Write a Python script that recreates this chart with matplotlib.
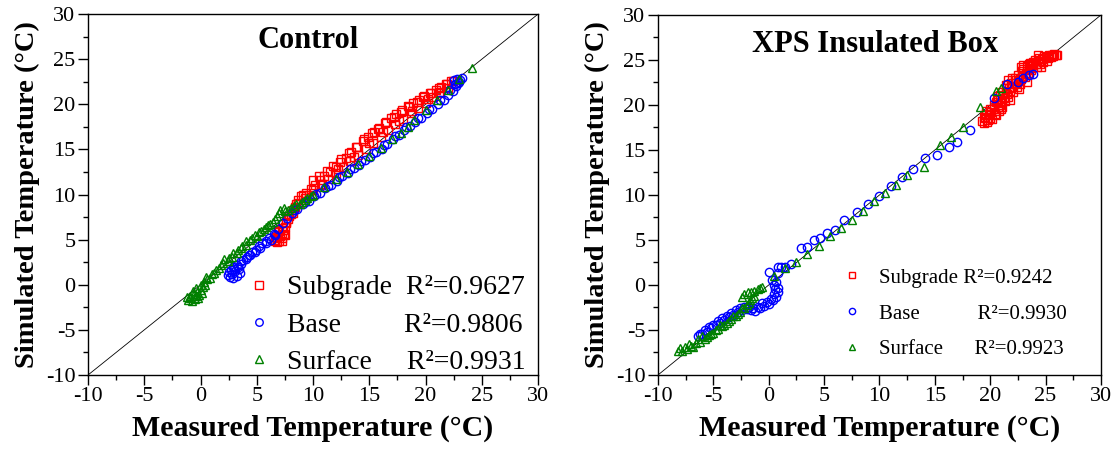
import matplotlib
matplotlib.use('Agg')
import numpy as np
import matplotlib.pyplot as plt
from matplotlib.ticker import MultipleLocator

plt.rcParams['font.family'] = ['Liberation Serif', 'DejaVu Serif']
plt.rcParams['axes.unicode_minus'] = False

# Control box: (measured, simulated)
ctrl_sub_x = [6.6, 6.8, 7.0, 7.2, 6.7, 6.9, 7.1, 7.4, 7.0, 7.3, 7.5, 7.6, 7.8, 8.0, 8.2, 8.5, 8.7,
              8.9, 9.1, 9.4, 9.8, 10.2, 10.6, 11.0, 11.5, 12.0, 12.4, 12.9, 13.4, 13.9, 14.4, 14.9,
              15.4, 15.9, 16.4, 16.9, 17.4, 17.9, 18.4, 18.9, 19.4, 19.9, 20.4, 20.9, 21.4, 21.9, 22.4,
              12.2, 13.6, 15.0, 16.2, 17.6, 18.8, 20.2, 21.2, 10.8, 9.6,
              9.3, 10.0, 10.7, 11.3, 12.0, 12.7, 13.3, 14.0, 14.7, 15.3, 16.0, 16.7, 17.3, 18.0,
              18.7, 19.3, 20.0, 20.7, 21.3, 22.0,
              10.0, 10.5, 11.2, 11.8, 12.5, 13.2, 13.8, 14.5, 15.2, 15.8, 16.5, 17.2, 17.8, 18.5,
              19.2, 19.8, 20.5, 21.2, 21.8, 22.3,
              6.6, 6.8, 7.2, 7.5, 6.9, 7.2, 7.6, 7.9, 8.2, 8.4, 8.7]
ctrl_sub_y = [4.8, 4.7, 4.9, 4.8, 5.3, 5.5, 5.4, 5.6, 6.0, 6.1, 6.4, 6.8, 7.3, 7.8, 8.3, 8.9, 9.4,
              9.8, 10.0, 10.2, 10.6, 11.1, 11.6, 12.0, 12.5, 13.1, 13.6, 14.1, 14.7, 15.3, 15.9, 16.4,
              16.9, 17.4, 17.9, 18.5, 18.9, 19.4, 19.8, 20.2, 20.5, 20.9, 21.2, 21.6, 21.9, 22.2, 22.6,
              12.8, 14.2, 15.7, 16.9, 18.2, 19.3, 20.6, 21.4, 11.2, 9.9,
              9.6, 10.5, 11.1, 11.7, 12.4, 13.1, 13.7, 14.4, 15.1, 15.7, 16.4, 17.1, 17.8, 18.4,
              19.0, 19.6, 20.2, 20.8, 21.3, 21.8,
              11.6, 12.1, 12.6, 13.2, 13.9, 14.6, 15.3, 16.1, 16.8, 17.3, 18.0, 18.6, 19.2, 19.7,
              20.3, 20.8, 21.3, 21.8, 22.3, 22.6,
              5.0, 5.2, 5.2, 5.5, 5.8, 6.3, 7.0, 7.6, 8.0, 8.6, 9.1]

ctrl_base_x = [2.4, 2.6, 2.9, 3.2, 3.5, 2.7, 3.0, 3.3, 3.6, 3.8, 4.1, 4.3, 4.6, 4.9, 5.2, 5.5, 5.8,
               6.1, 6.5, 6.9, 7.3, 7.7, 8.1, 8.6, 9.1, 9.6, 10.1, 10.6, 11.1, 11.6, 12.1, 12.6, 13.1,
               13.6, 14.1, 14.6, 15.1, 15.6, 16.1, 16.6, 17.1, 17.6, 18.1, 18.6, 19.1, 19.6, 20.1,
               20.6, 21.1, 21.6, 22.0, 22.4, 22.7, 22.9, 23.1, 22.8,
               2.5, 2.8, 3.1, 3.4, 2.9, 3.2, 3.6, 4.0, 4.4, 4.8, 5.3, 5.8, 6.3, 6.6,
               8.3, 9.3, 10.3, 11.3, 12.3, 13.3, 14.3, 15.3, 16.3, 17.3, 18.3, 19.3, 20.3, 21.3,
               22.2, 22.6, 23.0, 22.5, 23.2]
ctrl_base_y = [1.1, 0.9, 0.8, 1.0, 1.3, 1.6, 1.8, 2.0, 2.3, 2.7, 3.1, 3.3, 3.6, 3.9, 4.3, 4.6, 4.9,
               5.2, 5.6, 6.2, 6.8, 7.4, 7.9, 8.4, 8.9, 9.3, 9.8, 10.2, 10.7, 11.1, 11.5, 12.0, 12.4,
               12.9, 13.3, 13.8, 14.2, 14.7, 15.1, 15.6, 16.1, 16.6, 17.1, 17.6, 18.0, 18.5, 19.0,
               19.5, 20.0, 20.5, 21.0, 21.5, 22.0, 22.4, 22.7, 22.8,
               1.4, 1.2, 1.5, 1.7, 2.0, 2.2, 2.6, 2.9, 3.3, 3.6, 4.1, 4.6, 5.0, 5.5,
               8.3, 9.2, 10.1, 11.0, 11.9, 12.8, 13.7, 14.6, 15.5, 16.5, 17.5, 18.5, 19.5, 20.5,
               21.6, 22.3, 22.5, 22.7, 22.9]

ctrl_surf_x = [-1.1, -0.8, -0.5, -0.2, -0.9, -0.6, -0.3, 0.0, 0.2, 0.4, 0.6, 1.0, 1.4, 1.8, 2.1, 2.5,
               2.9, 3.3, 3.7, 4.0, 4.4, 4.8, 5.2, 5.6, 6.0, 6.4, 6.8, 7.1, 7.5, 8.0, 8.5, 9.0, 9.5,
               10.0, 11.0, 12.0, 13.0, 14.0, 15.0, 16.0, 17.0, 17.8, 18.4, 19.0, 20.0, 21.0, 22.0,
               23.0, 24.1,
               -1.2, -0.9, -0.4, -0.1, 0.1, -0.7, -0.4, 0.0, 0.3, 0.5, 0.8, 1.2, 1.6, 2.0, 2.4,
               2.8, 3.2, 3.6, 4.0, 4.6, 5.0, 5.4, 5.8, 6.2, 6.6, 7.0, 7.4, 7.8, 8.3, 8.8, 9.3, 9.8]
ctrl_surf_y = [-1.7, -1.8, -1.6, -1.5, -1.2, -1.0, -0.8, -0.6, -0.3, 0.0, 0.6, 1.2, 1.6, 2.2, 2.8, 3.0,
               3.5, 3.9, 4.3, 4.8, 5.0, 5.5, 5.8, 6.2, 6.6, 7.0, 7.6, 8.3, 8.2, 8.5, 8.9, 9.2, 9.6,
               10.0, 10.8, 11.7, 12.5, 13.4, 14.3, 15.2, 16.2, 16.8, 17.5, 18.3, 19.4, 20.5, 21.6,
               22.8, 24.0,
               -1.4, -1.5, -1.3, -1.1, -0.9, -0.7, -0.4, 0.0, 0.3, 0.9, 0.7, 1.3, 1.9, 2.4, 2.6,
               3.1, 3.5, 4.1, 4.4, 5.2, 5.4, 6.0, 6.4, 6.7, 7.3, 7.9, 8.5, 8.3, 8.7, 9.0, 9.4, 9.8]

# XPS insulated box
xps_sub_x = [19.3, 19.5, 19.8, 20.0, 19.6, 20.1, 20.4, 20.3, 20.7, 20.5, 21.0, 21.2, 20.9, 21.5,
             21.8, 21.4, 22.0, 22.3, 22.6, 22.2, 22.9, 23.2, 23.0, 23.5, 23.8, 24.1, 24.4, 24.7,
             25.0, 25.3, 25.6, 25.9, 24.0, 23.6, 21.6, 22.8,
             19.4, 19.7, 19.4, 19.9, 19.6, 20.0, 20.2, 20.5, 20.8, 20.3, 20.6, 20.9, 20.7,
             21.1, 21.3, 21.6, 21.1, 21.7, 21.9, 21.4, 22.1, 22.4, 22.7, 22.2, 22.5, 22.9, 22.8,
             23.1, 23.4, 23.7, 23.3, 23.9, 23.5, 24.2, 24.5, 24.8, 24.4, 24.9, 25.2, 25.5, 25.8,
             26.0, 25.7,
             21.0, 21.8, 22.0, 22.6, 23.3, 23.0, 24.3, 24.6, 23.7, 25.1]
xps_sub_y = [18.2, 18.5, 18.3, 18.6, 19.0, 19.2, 19.0, 19.6, 19.8, 20.3, 20.3, 20.8, 21.1, 21.2,
             21.6, 21.9, 22.0, 22.4, 22.8, 23.0, 23.2, 23.6, 24.0, 24.0, 24.4, 24.6, 24.9, 25.1,
             25.3, 25.5, 25.6, 25.5, 25.0, 24.7, 22.8, 24.2,
             18.0, 18.1, 18.7, 18.9, 19.3, 19.6, 18.4, 18.9, 19.3, 20.0, 20.6, 20.0, 21.0,
             19.8, 20.4, 20.9, 21.4, 21.9, 22.4, 22.2, 21.4, 22.0, 22.3, 22.8, 23.3, 23.8, 22.9,
             23.1, 23.5, 23.9, 24.3, 24.8, 24.5, 24.2, 24.5, 24.8, 25.2, 25.4, 25.2, 25.3, 25.7,
             25.5, 25.4,
             19.6, 20.6, 23.0, 21.8, 22.6, 24.4, 25.5, 24.2, 24.1, 24.9]

xps_base_x = [-6.2, -5.8, -5.4, -5.0, -4.6, -4.2, -3.8, -3.4, -3.0, -2.6, -2.2, -1.8, -1.4, -1.0,
              -0.6, -0.2, 0.2, 0.5, 0.6, 0.5, 0.3, 0.8, 1.1, 1.5, 2.0, 2.9, 3.5, 4.1, 4.6, 5.3, 6.0,
              6.8, 8.0, 9.0, 10.0, 11.0, 12.0, 13.0, 14.1, 15.2, 16.3, 17.0, 18.2, 20.3, 21.5, 22.5,
              23.0, 23.5, 23.9,
              -6.4, -6.0, -5.6, -5.2, -4.8, -4.4, -4.0, -3.6, -3.2, -2.8, -2.4, -2.0, -1.6, -1.2,
              -0.8, -0.4, 0.0, 0.4, 0.7, 0.8, 0.8, 0.7, 0.0, 0.8]
xps_base_y = [-5.4, -5.0, -4.7, -4.4, -4.0, -3.7, -3.4, -3.1, -2.8, -2.6, -2.4, -2.5, -2.6, -2.4,
              -2.0, -1.9, -1.6, -1.0, -0.5, 0.0, 0.6, 1.3, 2.0, 2.0, 2.3, 4.1, 4.2, 5.0, 5.2, 5.8,
              6.1, 7.2, 8.1, 9.0, 9.9, 11.0, 12.0, 12.9, 14.1, 14.4, 15.3, 15.9, 17.2, 20.8, 22.3,
              22.6, 23.0, 23.3, 23.4,
              -5.7, -5.5, -5.2, -4.8, -4.5, -4.2, -3.9, -3.6, -3.3, -3.0, -2.8, -2.7, -2.8, -2.9,
              -2.6, -2.3, -2.1, -1.7, -1.3, -0.8, -0.3, 0.3, 1.4, 2.0]

xps_surf_x = [-8.2, -7.8, -7.4, -7.0, -6.6, -6.2, -5.8, -5.4, -5.0, -4.6, -4.2, -3.8, -3.4, -3.0,
              -2.6, -2.2, -1.8, -1.5, -2.2, -1.6, -1.0, -0.6, 0.5, 1.5, 2.5, 3.5, 4.5, 5.5, 6.5, 7.5,
              8.5, 9.5, 10.5, 11.5, 12.5, 14.0, 15.5, 16.5, 17.5, 19.1, 20.5, 21.0,
              -8.0, -7.6, -7.2, -6.8, -6.4, -6.0, -5.6, -5.2, -4.8, -4.4, -4.0, -3.6, -3.2, -2.8,
              -2.4, -2.0, -1.7, -1.3, -2.4, -1.9, -1.3, -0.8]
xps_surf_y = [-7.3, -7.3, -7.1, -6.8, -6.5, -6.3, -6.0, -5.6, -5.3, -4.9, -4.6, -4.2, -3.8, -3.4,
              -3.0, -2.6, -2.0, -1.4, -1.0, -0.8, -0.5, -0.2, 1.0, 1.9, 2.6, 3.4, 4.3, 5.4, 6.3, 7.2,
              8.2, 9.3, 10.2, 11.1, 12.2, 13.1, 15.5, 16.4, 17.6, 19.8, 21.6, 21.9,
              -7.0, -6.9, -6.6, -6.9, -6.0, -5.7, -5.8, -5.4, -5.0, -4.4, -4.4, -4.0, -3.5, -3.2,
              -2.6, -2.2, -1.7, -1.2, -1.3, -0.8, -0.7, -0.3]

one_to_one = [-10, 30]
ticks_lim = (-10, 30)

panels = [
    dict(title='Control', title_y=0.928,
         series=[(ctrl_sub_x, ctrl_sub_y, 's', 'red', 'Subgrade  R\u00b2=0.9627'),
                 (ctrl_base_x, ctrl_base_y, 'o', 'blue', 'Base         R\u00b2=0.9806'),
                 (ctrl_surf_x, ctrl_surf_y, '^', 'green', 'Surface     R\u00b2=0.9931')],
         leg_anchor=(0.325, -0.03), leg_fs=20, leg_space=0.42, mscale=0.9, tpad=0.5),
    dict(title='XPS Insulated Box', title_y=0.919,
         series=[(xps_sub_x, xps_sub_y, 's', 'red', 'Subgrade R\u00b2=0.9242'),
                 (xps_base_x, xps_base_y, 'o', 'blue', 'Base           R\u00b2=0.9930'),
                 (xps_surf_x, xps_surf_y, '^', 'green', 'Surface      R\u00b2=0.9923')],
         leg_anchor=(0.395, 0.02), leg_fs=15, leg_space=0.78, mscale=0.75, tpad=0.8),
]

fig = plt.figure(figsize=(11.2, 4.5), dpi=100)
rects = [[0.0786, 0.1667, 0.4018, 0.802], [0.5875, 0.1667, 0.3955, 0.800]]
ylab_x = [-0.107, -0.108]

for i, p in enumerate(panels):
    ax = fig.add_axes(rects[i])
    ax.plot(one_to_one, one_to_one, color='black', lw=0.6, zorder=1)
    for xs, ys, mk, col, lab in p['series']:
        ax.plot(xs, ys, ls='none', marker=mk, markersize=6, mfc='none', mec=col,
                mew=1.0, label=lab, zorder=2)
    ax.set_xlim(*ticks_lim)
    ax.set_ylim(*ticks_lim)
    ax.xaxis.set_major_locator(MultipleLocator(5))
    ax.yaxis.set_major_locator(MultipleLocator(5))
    ax.xaxis.set_minor_locator(MultipleLocator(2.5))
    ax.yaxis.set_minor_locator(MultipleLocator(2.5))
    ax.tick_params(which='major', direction='out', length=7, width=1, labelsize=16, pad=2)
    ax.tick_params(which='minor', direction='out', length=3.5, width=1)
    for s in ax.spines.values():
        s.set_linewidth(1)
    ax.set_xlabel('Measured Temperature (\u00b0C)', fontsize=21.5, fontweight='bold', labelpad=6)
    ax.set_ylabel('Simulated Temperature (\u00b0C)', fontsize=20.5, fontweight='bold')
    ax.yaxis.set_label_coords(ylab_x[i], 0.5)
    ax.text(0.49, p['title_y'], p['title'], transform=ax.transAxes, ha='center', va='center',
            fontsize=22, fontweight='bold')
    ax.legend(loc='lower left', bbox_to_anchor=p['leg_anchor'], frameon=False,
              fontsize=p['leg_fs'], handlelength=1.0, handletextpad=p['tpad'],
              labelspacing=p['leg_space'], borderaxespad=0, markerscale=p['mscale'])

fig.savefig('out.png', dpi=100)
